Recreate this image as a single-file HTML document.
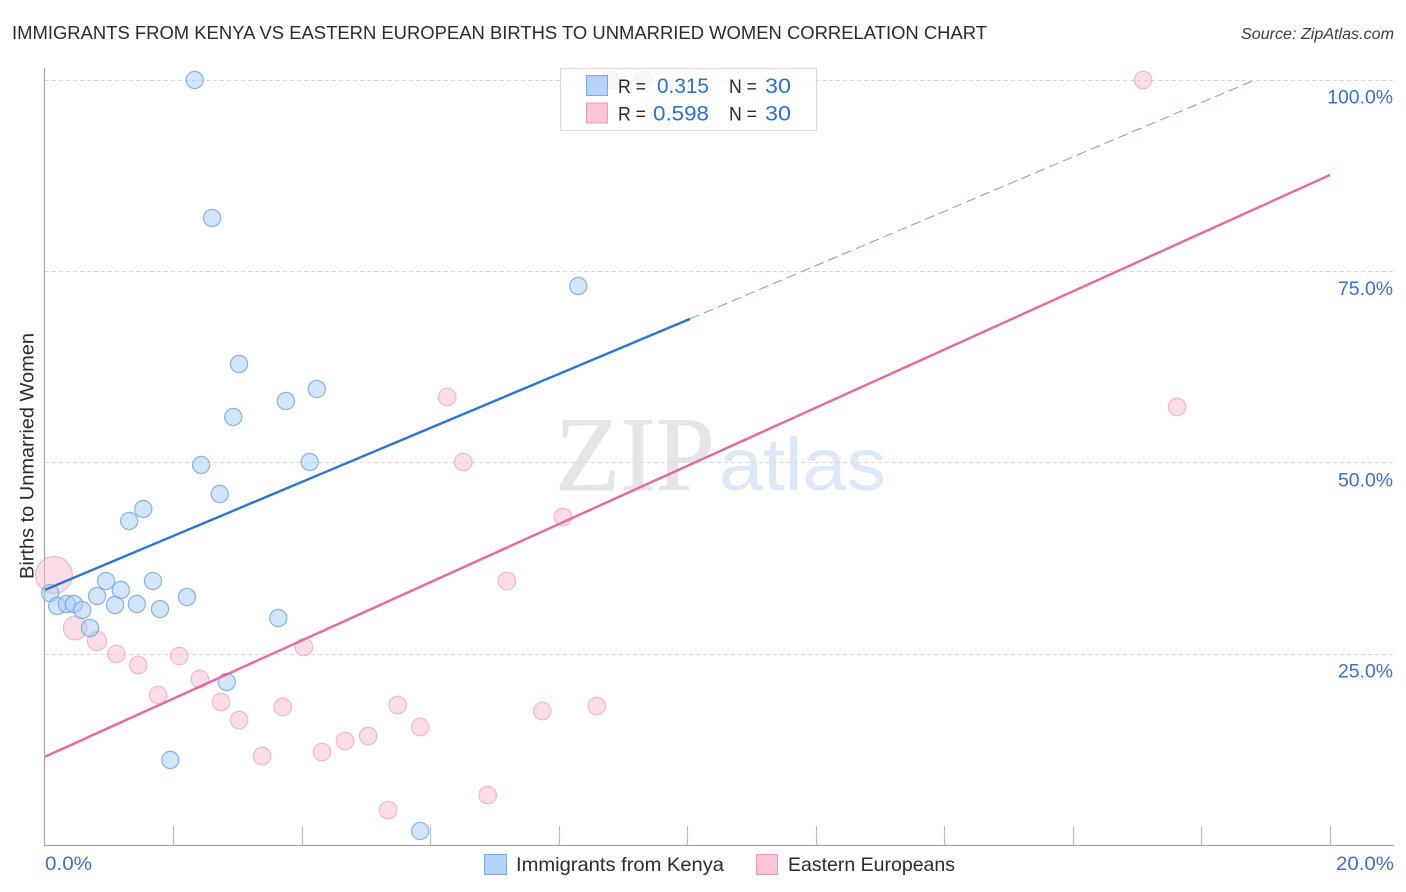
<!DOCTYPE html>
<html lang="en">
<head>
<meta charset="utf-8">
<title>Immigrants from Kenya vs Eastern European Births to Unmarried Women Correlation Chart</title>
<style>
html,body{margin:0;padding:0;background:#fff;}
svg{display:block;font-family:"Liberation Sans",sans-serif;}
.tick{fill:#3b70cf;font-size:19.4px;}
.dark{fill:#2a2a30;}
.val{fill:#2f6fd0;font-size:21px;}
</style>
</head>
<body>
<svg id="chart" xmlns="http://www.w3.org/2000/svg" width="1406" height="892" viewBox="0 0 1406 892">
  <rect x="0" y="0" width="1406" height="892" fill="#ffffff"/>
  <text class="dark" x="12" y="39" font-size="18.6" textLength="975" lengthAdjust="spacingAndGlyphs">IMMIGRANTS FROM KENYA VS EASTERN EUROPEAN BIRTHS TO UNMARRIED WOMEN CORRELATION CHART</text>
  <text x="1241" y="39" font-size="15.4" font-style="italic" fill="#3c3c42" textLength="153" lengthAdjust="spacingAndGlyphs">Source: ZipAtlas.com</text>

  <g>
    <text x="555" y="490" font-family="'Liberation Serif',serif" font-size="106" fill="#e5e5e5" stroke="#e5e5e5" stroke-width="0.8" textLength="160" lengthAdjust="spacingAndGlyphs">ZIP</text>
    <text x="719" y="490" font-size="74" fill="#dce7f7" textLength="167" lengthAdjust="spacingAndGlyphs">atlas</text>
  </g>

  <g id="grid"></g>
  <g id="axes"></g>
  <g id="ylabels"></g>

  <text class="dark" transform="translate(33.5,579) rotate(-90)" font-size="19.4" textLength="246" lengthAdjust="spacingAndGlyphs">Births to Unmarried Women</text>

  <g id="points-pink"></g>
  <g id="points-blue"></g>
  <g id="trends"></g>

  <g>
    <rect x="560.5" y="68.5" width="256" height="62" fill="#ffffff" fill-opacity="0.75" stroke="#d9d9d9" stroke-width="1"/>
    <rect x="586.5" y="75.5" width="21" height="20" fill="#b5d2f8" stroke="#7fa9e3" stroke-width="1"/>
    <rect x="586.5" y="103" width="21" height="20" fill="#fac6d8" stroke="#f09ab6" stroke-width="1"/>
    <text class="dark" x="618" y="93" font-size="19.4" textLength="28" lengthAdjust="spacingAndGlyphs">R =</text>
    <text class="val" x="657" y="93" textLength="52" lengthAdjust="spacingAndGlyphs">0.315</text>
    <text class="dark" x="729" y="93" font-size="19.4" textLength="28" lengthAdjust="spacingAndGlyphs">N =</text>
    <text class="val" x="765" y="93" textLength="26" lengthAdjust="spacingAndGlyphs">30</text>
    <text class="dark" x="618" y="120.5" font-size="19.4" textLength="28" lengthAdjust="spacingAndGlyphs">R =</text>
    <text class="val" x="653" y="120.5" textLength="56" lengthAdjust="spacingAndGlyphs">0.598</text>
    <text class="dark" x="729" y="120.5" font-size="19.4" textLength="28" lengthAdjust="spacingAndGlyphs">N =</text>
    <text class="val" x="765" y="120.5" textLength="26" lengthAdjust="spacingAndGlyphs">30</text>
  </g>

  <text class="tick" x="45" y="870" textLength="47" lengthAdjust="spacingAndGlyphs">0.0%</text>
  <text class="tick" x="1336" y="870" textLength="58" lengthAdjust="spacingAndGlyphs">20.0%</text>

  <g>
    <g>
      <rect x="484.5" y="854.5" width="22" height="20" fill="#b5d2f8" stroke="#7fa9e3" stroke-width="1"/>
      <text class="dark" x="516" y="871" font-size="19.4" textLength="208" lengthAdjust="spacingAndGlyphs">Immigrants from Kenya</text>
    </g>
    <g>
      <rect x="756.5" y="854.5" width="21" height="20" fill="#fac6d8" stroke="#f09ab6" stroke-width="1"/>
      <text class="dark" x="788" y="871" font-size="19.4" textLength="167" lengthAdjust="spacingAndGlyphs">Eastern Europeans</text>
    </g>
  </g>
</svg>
<script>
var yTickValues = [25, 50, 75, 100];
var yTickLabels = ["25.0%", "50.0%", "75.0%", "100.0%"];
var xTickValues = [0, 2, 4, 6, 8, 10, 12, 14, 16, 18, 20];

var kenyaX = [2.33,2.60,8.30,3.02,4.23,3.75,2.93,2.43,4.12,2.72,1.53,1.31,0.95,1.68,1.18,0.81,2.21,0.08,0.19,0.34,0.45,0.58,1.09,1.43,1.79,3.63,0.70,2.83,1.95,5.84];
var kenyaY = [100,81.97,73.09,62.9,59.63,58.07,55.98,49.71,50.1,45.92,43.96,42.39,34.55,34.55,33.38,32.59,32.46,32.98,31.29,31.55,31.55,30.76,31.42,31.55,30.89,29.72,28.41,21.36,11.17,1.89];

var easternX = [0.14,0.47,0.81,1.11,1.45,2.09,1.76,2.41,2.74,3.02,3.38,3.70,4.03,4.31,4.67,5.03,5.49,5.84,5.34,6.89,6.26,6.51,8.06,7.19,7.74,8.59,17.62,17.09,9.31,8.79];
var easternY = [35.34,28.41,26.71,25.02,23.58,24.75,19.66,21.75,18.75,16.39,11.69,18.09,25.93,12.21,13.65,14.3,18.35,15.48,4.64,6.6,58.59,50.1,42.91,34.55,17.57,18.22,57.28,100,100,100];
var easternWeight = [4.2,2.7,2.2,2,2,2,2,2,2,2,2,2,2,2,2,2,2,2,2,2,2,2,2,2,2,2,2,2,2,2];

var kenyaTrendX = [0, 10.04];
var kenyaTrendY = [33.4, 68.8];
var kenyaDashX = [10.04, 18.83];
var kenyaDashY = [68.8, 100];
var easternTrendX = [0, 20];
var easternTrendY = [11.6, 87.6];

var NS = "http://www.w3.org/2000/svg";
function sx(v){ return 45 + v * 64.25; }
function sy(v){ return 845.5 - v * 7.655; }
function mk(parentId, tag, attrs){
  var el = document.createElementNS(NS, tag);
  for (var k in attrs) el.setAttribute(k, attrs[k]);
  document.getElementById(parentId).appendChild(el);
  return el;
}

yTickValues.forEach(function(v, i){
  var gy = Math.floor(sy(v)) + 0.5;
  var g = mk("grid", "line", {x1: 45, x2: 1394, y1: gy, y2: gy, stroke: "#d9d9dd", "stroke-width": 1, "stroke-dasharray": "4 3"});
  
  
  var t = mk("ylabels", "text", {x: 1393, y: sy(v) + 23.5, "text-anchor": "end", "class": "tick"});
  
  
  t.textContent = yTickLabels[i];
});

var yAxis = mk("axes", "line", {x1: 44.5, x2: 44.5, y1: 68, y2: 846, stroke: "#a8a8a8", "stroke-width": 1.2});


var xAxis = mk("axes", "line", {x1: 44, x2: 1394, y1: 845.5, y2: 845.5, stroke: "#a8a8a8", "stroke-width": 1.2});



xTickValues.forEach(function(v){
  if (v === 0) return;
  var px = Math.floor(sx(v)) + 0.5;
  var t = mk("axes", "line", {x1: px, x2: px, y1: 826, y2: 845.5, stroke: "#bcbcbc", "stroke-width": 1.2});
  
  
});

easternX.forEach(function(v, i){
  var c = mk("points-pink", "circle", {cx: sx(v), cy: sy(easternY[i]), r: easternWeight[i] * 4.4, fill: "#f8bbd0", "fill-opacity": 0.5, stroke: "#f093b2", "stroke-opacity": 0.6, "stroke-width": 1.2});
  
  
});

kenyaX.forEach(function(v, i){
  var c = mk("points-blue", "circle", {cx: sx(v), cy: sy(kenyaY[i]), r: 8.6, fill: "#a8cbf5", "fill-opacity": 0.5, stroke: "#6ea2e2", "stroke-opacity": 0.8, "stroke-width": 1.2});
  
  
});

var kLine = mk("trends", "line", {x1: sx(kenyaTrendX[0]), y1: sy(kenyaTrendY[0]), x2: sx(kenyaTrendX[1]), y2: sy(kenyaTrendY[1]), stroke: "#2a74d8", "stroke-width": 2.4});


var kDash = mk("trends", "line", {x1: sx(kenyaDashX[0]), y1: sy(kenyaDashY[0]), x2: sx(kenyaDashX[1]), y2: sy(kenyaDashY[1]), stroke: "#7f9fd0", "stroke-width": 1, "stroke-dasharray": "10 5"});


var eLine = mk("trends", "line", {x1: sx(easternTrendX[0]), y1: sy(easternTrendY[0]), x2: sx(easternTrendX[1]), y2: sy(easternTrendY[1]), stroke: "#e9699a", "stroke-width": 2.4});


</script>
</body>
</html>
